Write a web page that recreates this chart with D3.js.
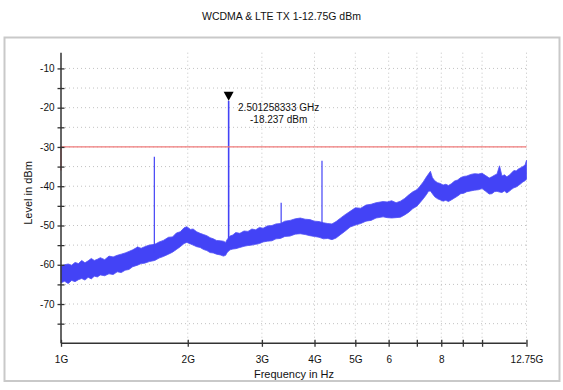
<!DOCTYPE html>
<html>
<head>
<meta charset="utf-8">
<script src="https://cdn.jsdelivr.net/npm/d3@7"></script>
<style>
body { margin: 0; background: #fff; }
text { font-family: "Liberation Sans", Arial, sans-serif; fill: #111; }
</style>
</head>
<body>
<div id="chart"></div>
<script>
// trace envelope (GHz, dBm)
var freqs = [1.00, 1.02, 1.04, 1.06, 1.08, 1.10, 1.12, 1.14, 1.16, 1.18, 1.20, 1.22, 1.24, 1.27, 1.30, 1.33, 1.36, 1.39, 1.42, 1.45,
    1.48, 1.52, 1.55, 1.58, 1.62, 1.67, 1.71, 1.75, 1.80, 1.84, 1.88, 1.92, 1.96, 1.99, 2.03, 2.06, 2.10, 2.14, 2.18, 2.22,
    2.26, 2.30, 2.34, 2.39, 2.43, 2.46, 2.48, 2.52, 2.56, 2.60, 2.66, 2.72, 2.78, 2.84, 2.90, 2.96, 3.02, 3.09, 3.17, 3.24,
    3.32, 3.40, 3.50, 3.60, 3.70, 3.80, 3.90, 4.00, 4.10, 4.20, 4.30, 4.40, 4.50, 4.60, 4.72, 4.86, 5.00, 5.15, 5.30, 5.45,
    5.60, 5.82, 5.95, 6.10, 6.25, 6.40, 6.55, 6.70, 6.85, 7.00, 7.12, 7.25, 7.38, 7.46, 7.54, 7.62, 7.72, 7.84, 7.96, 8.08,
    8.20, 8.32, 8.45, 8.60, 8.75, 8.90, 9.05, 9.20, 9.40, 9.60, 9.80, 10.00, 10.20, 10.40, 10.55, 10.70, 10.85, 11.00, 11.15, 11.30,
    11.45, 11.60, 11.75, 11.90, 12.05, 12.20, 12.35, 12.50, 12.65, 12.75];
var lowEnv = [-64.6, -64.2, -64.8, -64.0, -64.3, -63.8, -63.5, -63.9, -63.2, -63.6, -62.9, -63.1, -62.6, -62.8, -62.3, -62.5, -61.8, -62.0, -61.4, -61.2,
    -60.5, -60.1, -59.7, -59.6, -59.2, -58.9, -58.3, -57.9, -57.3, -56.8, -56.1, -55.4, -54.6, -54.3, -54.7, -55.0, -55.4, -55.6, -56.1, -56.4,
    -56.9, -57.0, -57.3, -57.5, -57.8, -57.6, -56.9, -56.2, -56.0, -55.9, -55.6, -55.3, -55.1, -55.0, -54.8, -54.6, -54.2, -54.0, -53.9, -53.4,
    -53.3, -52.8, -52.7, -52.2, -52.1, -52.3, -52.6, -52.8, -53.0, -53.4, -53.3, -53.6, -53.2, -52.4, -51.5, -50.4, -49.9, -49.5, -48.9, -48.7,
    -48.1, -47.8, -48.0, -48.1, -48.0, -47.9, -47.3, -46.6, -45.7, -45.1, -44.2, -43.2, -42.1, -41.3, -41.2, -41.9, -42.7, -43.2, -43.5, -43.8,
    -43.6, -43.9, -43.5, -43.0, -42.5, -41.9, -41.8, -41.4, -41.2, -41.0, -40.9, -40.6, -41.3, -42.0, -41.9, -41.4, -41.3, -41.5, -41.6, -41.2,
    -41.7, -41.3, -40.8, -40.4, -40.2, -39.8, -39.4, -38.9, -38.6, -38.2];
var highEnv = [-60.3, -60.0, -59.8, -60.1, -59.4, -59.7, -58.9, -59.5, -59.0, -58.4, -58.9, -58.6, -58.2, -58.7, -57.8, -58.0, -57.6, -57.3, -57.0, -56.6,
    -56.2, -55.5, -55.8, -55.4, -55.0, -54.8, -54.2, -53.8, -53.0, -52.9, -51.9, -51.6, -50.6, -50.3, -51.0, -50.9, -51.6, -52.0, -52.3, -52.6,
    -53.1, -53.4, -53.8, -53.9, -54.0, -54.3, -53.6, -52.7, -52.4, -51.8, -52.0, -51.4, -51.5, -50.9, -51.1, -50.5, -50.7, -50.1, -50.0, -49.6,
    -49.5, -48.9, -48.7, -48.3, -48.1, -48.4, -48.5, -48.9, -49.0, -49.3, -49.5, -49.6, -49.0, -48.2, -47.3, -46.4, -45.5, -45.6, -44.8, -44.6,
    -44.2, -43.9, -44.0, -43.7, -44.2, -43.8, -43.1, -42.2, -41.4, -40.9, -40.0, -38.9, -37.6, -36.9, -36.2, -37.8, -38.6, -39.1, -39.3, -39.7,
    -39.5, -39.8, -39.4, -38.7, -38.4, -37.8, -37.5, -37.4, -37.0, -36.8, -36.9, -36.7, -37.3, -37.9, -37.6, -37.2, -36.9, -34.8, -37.4, -37.1,
    -37.6, -37.2, -36.6, -36.0, -36.1, -35.6, -35.3, -35.0, -34.6, -33.4];

// spurs sticking out of the noise floor
var spurFreqs = [1.52, 1.666, 2.501258333, 3.333, 4.167];
var spurBase = [-57.0, -56.8, -55.0, -51.2, -51.3];
var spurPeak = [-55.4, -32.5, -18.237, -44.2, -33.5];

// limit line: -36 below 1G, -30 above
var limitFreqs = [1.0, 1.0, 12.75];
var limitLevels = [-36, -30, -30];

var xTicks = [1, 2, 3, 4, 5, 6, 7, 8, 9, 10, 12.75];
var xTickLabels = ["1G", "2G", "3G", "4G", "5G", "6", "", "8", "", "", "12.75G"];
var yTicks = [-75, -70, -65, -60, -55, -50, -45, -40, -35, -30, -25, -20, -15, -10];
var yTickLabels = [-70, -60, -50, -40, -30, -20, -10];

var width = 563, height = 390;
var plotLeft = 61, plotRight = 526.5, plotTop = 52.7, plotBottom = 343.3;

var svg = d3.select("#chart").append("svg")
    .attr("width", width)
    .attr("height", height);

// outer frame
svg.append("rect")
    .attr("x", 4.5).attr("y", 37.5)
    .attr("width", 555).attr("height", 343.5)
    .style("fill", "none")
    .style("stroke", "#c9c9c9")
    .style("stroke-width", 2);

svg.append("text")
    .attr("x", 281.5).attr("y", 20)
    .attr("text-anchor", "middle")
    .style("font-size", "10.5px")
    .text("WCDMA & LTE TX 1-12.75G dBm");

var x = d3.scaleLog().domain([1, 12.75]).range([plotLeft, plotRight]);
var y = d3.scaleLinear().domain([-80, -6]).range([plotBottom, plotTop]);

// dotted grid
svg.append("g").selectAll("line")
    .data(yTicks)
    .enter().append("line")
    .attr("x1", plotLeft).attr("x2", plotRight)
    .attr("y1", d => y(d)).attr("y2", d => y(d))
    .style("stroke", "#c2c2c2")
    .style("stroke-dasharray", "1,3");

svg.append("g").selectAll("line")
    .data(xTicks.slice(1))
    .enter().append("line")
    .attr("x1", d => x(d)).attr("x2", d => x(d))
    .attr("y1", plotTop).attr("y2", plotBottom)
    .style("stroke", "#c2c2c2")
    .style("stroke-dasharray", "1,3");

// noise floor band
var band = d3.area()
    .x((d, i) => x(freqs[i]))
    .y0((d, i) => y(lowEnv[i]))
    .y1((d, i) => y(highEnv[i]));

svg.append("path")
    .datum(freqs)
    .attr("d", band)
    .style("fill", "#4343f6")
    .style("stroke", "#5050f6")
    .style("stroke-width", 0.8);

svg.append("g").selectAll("line")
    .data(spurFreqs)
    .enter().append("line")
    .attr("x1", d => x(d)).attr("x2", d => x(d))
    .attr("y1", (d, i) => y(spurBase[i]))
    .attr("y2", (d, i) => y(spurPeak[i]))
    .style("stroke", "#4343f6")
    .style("stroke-width", (d, i) => i === 2 ? 1.6 : 1.2);

// limit line
var limit = d3.line()
    .x((d, i) => x(limitFreqs[i]))
    .y((d, i) => y(limitLevels[i]));

svg.append("path")
    .datum(limitFreqs)
    .attr("d", limit)
    .style("fill", "none")
    .style("stroke", "#f07a7a")
    .style("stroke-width", 1.3);

// axes
var xAxis = d3.axisBottom(x)
    .tickValues(xTicks)
    .tickFormat((d, i) => xTickLabels[i])
    .tickSizeInner(3.5)
    .tickSizeOuter(0)
    .tickPadding(9);

var gx = svg.append("g")
    .attr("transform", "translate(0," + plotBottom + ")")
    .call(xAxis);
gx.select(".domain").attr("d", "M" + plotLeft + ",0H" + plotRight).style("stroke", "#333").style("stroke-width", 1.5);
gx.selectAll(".tick line").attr("y1", -3.5).style("stroke", "#333").style("stroke-width", 1.3);
gx.selectAll(".tick text").style("font-size", "10px").style("font-family", "Liberation Sans, Arial, sans-serif").attr("fill", "#111");

var yAxis = d3.axisLeft(y)
    .tickValues(yTicks)
    .tickFormat(d => yTickLabels.indexOf(d) >= 0 ? d : "")
    .tickSizeInner(3.5)
    .tickSizeOuter(0)
    .tickPadding(3);

var gy = svg.append("g")
    .attr("transform", "translate(" + plotLeft + ",0)")
    .call(yAxis);
gy.select(".domain").attr("d", "M0," + plotTop + "V" + plotBottom).style("stroke", "#333").style("stroke-width", 1.5);
gy.selectAll(".tick line").attr("x2", 3.5).attr("x1", -3.5).style("stroke", "#333").style("stroke-width", 1.3);
gy.selectAll(".tick text").style("font-size", "10px").style("font-family", "Liberation Sans, Arial, sans-serif").attr("fill", "#111");

svg.append("text")
    .attr("x", 294).attr("y", 378)
    .attr("text-anchor", "middle")
    .style("font-size", "11px")
    .text("Frequency in Hz");

svg.append("text")
    .attr("transform", "translate(32,193) rotate(-90)")
    .attr("text-anchor", "middle")
    .style("font-size", "11px")
    .text("Level in dBm");

// peak marker
var mx = x(spurFreqs[2]), my = y(spurPeak[2]);
svg.append("path")
    .attr("d", "M" + (mx - 5) + "," + (my - 9) + "L" + (mx + 5) + "," + (my - 9) + "L" + mx + "," + my + "Z")
    .style("fill", "#000");

svg.append("text")
    .attr("x", mx + 50).attr("y", my + 10)
    .attr("text-anchor", "middle")
    .style("font-size", "10px")
    .text(spurFreqs[2].toFixed(9) + " GHz");

svg.append("text")
    .attr("x", mx + 50).attr("y", my + 22)
    .attr("text-anchor", "middle")
    .style("font-size", "10px")
    .text(spurPeak[2].toFixed(3) + " dBm");
</script>
</body>
</html>
